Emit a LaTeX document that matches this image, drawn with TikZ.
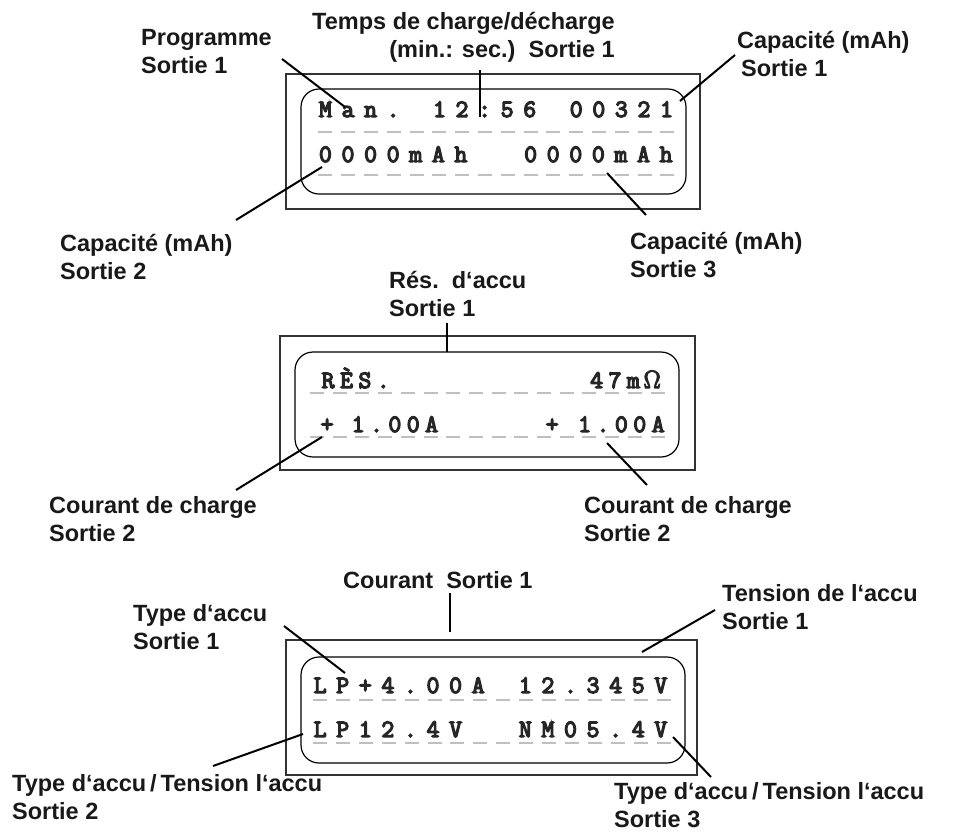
\documentclass[tikz,border=0pt]{standalone}
\usepackage{fontspec}
\setmainfont{Liberation Sans}
\newfontfamily\lcdwide{Latin Modern Mono}[LetterSpace=38.8]
\newfontfamily\lcdnarrow{Latin Modern Mono}[LetterSpace=22]
\newcommand\heavyon{\special{pdf:literal direct 2 Tr 1.3 w}}
\newcommand\heavyoff{\special{pdf:literal direct 0 Tr}}
\begin{document}
\begin{tikzpicture}[x=1pt,y=-1pt,
  outerbox/.style={draw=black!80, line width=1.3pt},
  innerbox/.style={draw=black, line width=1.2pt, rounded corners=18pt},
  lcddash/.style={draw=black!25, line width=1.2pt},
  leader/.style={draw=black, line width=2pt},
  lbl/.style={font=\fontsize{23.5}{28.5}\selectfont\bfseries, inner sep=0pt, align=left, anchor=north west, text=black!90},
  lcdA/.style={font=\lcdwide\fontsize{25}{25}\selectfont, inner sep=0pt, anchor=base west, text=black!85,
    execute at begin node=\heavyon, execute at end node=\heavyoff},
  lcdB/.style={font=\lcdnarrow\fontsize{25}{25}\selectfont, inner sep=0pt, anchor=base west, text=black!85,
    execute at begin node=\heavyon, execute at end node=\heavyoff}]
\useasboundingbox (0,0) rectangle (953,831);

% ---------------- Display 1 ----------------
\draw[outerbox] (286,74) rectangle (700,209);
\draw[innerbox] (301,89) rectangle (686,194);
\foreach \i in {0,...,15} {
  \draw[lcddash] ({325.4+\i*22.8-7},132) -- ++(14,0);
  \draw[lcddash] ({325.4+\i*22.8-7},175) -- ++(14,0);
}
\node[lcdA] (d1a) at (318.8,117) {Man.};
\node[lcdA] (d1b) at ({318.8+5*22.8},117) {12:56};
\node[lcdA] (d1c) at ({318.8+11*22.8},117) {00321};
\node[lcdA] (d1d) at (318.8,162) {0000mAh};
\node[lcdA] (d1e) at ({318.8+9*22.8},162) {0000mAh};

\node[lbl] (prog) at (141,29) {Programme\\Sortie 1};
\node[lbl, align=right, anchor=north east] (temps) at (615,12) {Temps de charge/décharge\\(min.: sec.)\ \ Sortie 1};
\node[lbl] (cap1) at (737,31) {Capacité (mAh)\\\hspace*{4pt}Sortie 1};
\node[lbl] (cap2) at (60,234) {Capacité (mAh)\\Sortie 2};
\node[lbl] (cap3) at (630,232) {Capacité (mAh)\\Sortie 3};

\coordinate (l1a) at (282,59);  \coordinate (l1b) at (345,107);
\coordinate (l2a) at (480,70);  \coordinate (l2b) at (480,117);
\coordinate (l3a) at (735,55);  \coordinate (l3b) at (680,101);
\coordinate (l4a) at (236,220); \coordinate (l4b) at (322,167);
\coordinate (l5a) at (646,215); \coordinate (l5b) at (607,173);
\draw[leader] (l1a) -- (l1b);
\draw[leader] (l2a) -- (l2b);
\draw[leader] (l3a) -- (l3b);
\draw[leader] (l4a) -- (l4b);
\draw[leader] (l5a) -- (l5b);

% ---------------- Display 2 ----------------
\draw[outerbox] (280,336) rectangle (695,470);
\draw[innerbox] (295,352) rectangle (679,457);
\foreach \i in {0,...,15} {
  \draw[lcddash] ({317+\i*22.7-7},393) -- ++(14,0);
  \draw[lcddash] ({317+\i*22.7-7},437) -- ++(14,0);
}
\node[lcdB] (d2a) at (321.5,388) {RÈS.};
\node[lcdB] (d2b) at (590,388) {47m\kern4pt$\Omega$};
\node[lcdB] (d2c) at (320.5,432) {+};
\node[lcdB] (d2d) at (351.5,432) {1.00A};
\node[lcdB] (d2e) at (545.5,432) {+};
\node[lcdB] (d2f) at (578,432) {1.00A};

\node[lbl] (res) at (389,271) {Rés.\ \ d‘accu\\Sortie 1};
\node[lbl] (cc2l) at (49,496) {Courant de charge\\Sortie 2};
\node[lbl] (cc2r) at (584,496) {Courant de charge\\Sortie 2};

\coordinate (l6a) at (447,323); \coordinate (l6b) at (447,352);
\coordinate (l7a) at (236,490); \coordinate (l7b) at (322,437);
\coordinate (l8a) at (647,485); \coordinate (l8b) at (607,443);
\draw[leader] (l6a) -- (l6b);
\draw[leader] (l7a) -- (l7b);
\draw[leader] (l8a) -- (l8b);

% ---------------- Display 3 ----------------
\draw[outerbox] (286,640) rectangle (697,775);
\draw[innerbox] (301,657) rectangle (685,763);
\foreach \i in {0,...,15} {
  \draw[lcddash] ({320+\i*22.9-7},700) -- ++(14,0);
  \draw[lcddash] ({320+\i*22.9-7},743) -- ++(14,0);
}
\node[lcdA] (d3a) at (313.5,693) {LP+4.00A};
\node[lcdA] (d3b) at ({313.5+9*22.8},693) {12.345V};
\node[lcdA] (d3c) at (313.5,737) {LP12.4V};
\node[lcdA] (d3d) at ({313.5+9*22.8},737) {NM05.4V};

\node[lbl] (cour) at (343,571) {Courant\ \ Sortie 1};
\node[lbl] (type1) at (133,604) {Type d‘accu\\Sortie 1};
\node[lbl] (tens) at (722,584) {Tension de l‘accu\\Sortie 1};
\node[lbl] (type2) at (12,774) {Type d‘accu\,/\,Tension l‘accu\\Sortie 2};
\node[lbl] (type3) at (614,782) {Type d‘accu\,/\,Tension l‘accu\\Sortie 3};

\coordinate (l9a) at (450,593);  \coordinate (l9b) at (450,632);
\coordinate (l10a) at (284,626); \coordinate (l10b) at (345,673);
\coordinate (l11a) at (715,610); \coordinate (l11b) at (642,652);
\coordinate (l12a) at (213,766); \coordinate (l12b) at (303,734);
\coordinate (l13a) at (711,777); \coordinate (l13b) at (673,737);
\draw[leader] (l9a) -- (l9b);
\draw[leader] (l10a) -- (l10b);
\draw[leader] (l11a) -- (l11b);
\draw[leader] (l12a) -- (l12b);
\draw[leader] (l13a) -- (l13b);
\end{tikzpicture}
\end{document}
